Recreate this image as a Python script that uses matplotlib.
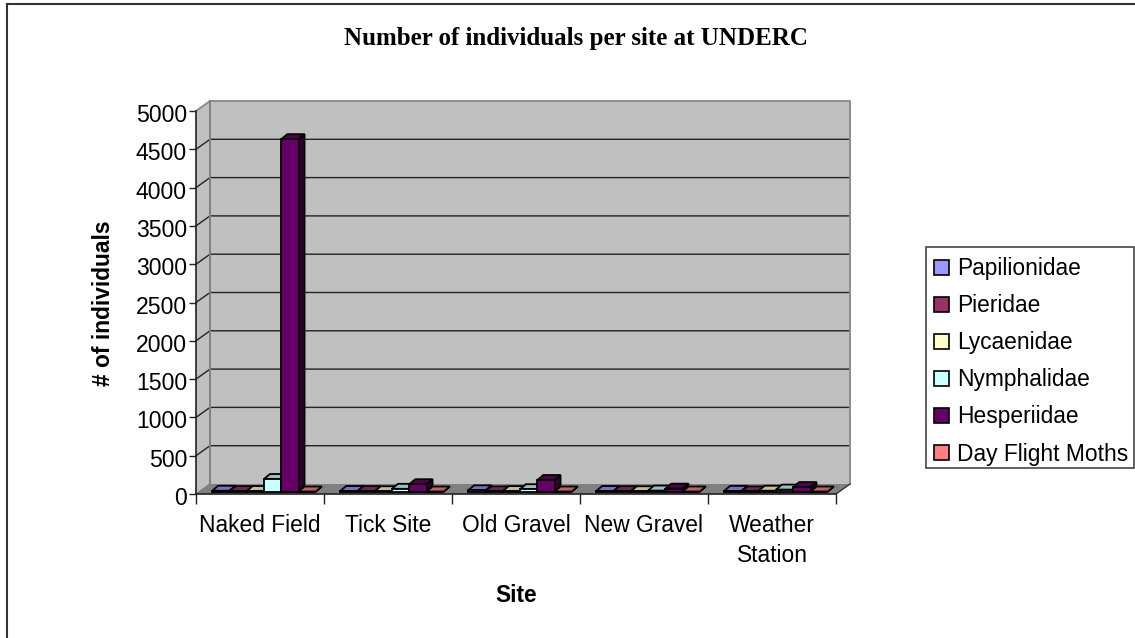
import numpy as np
from matplotlib import pyplot as plt
from matplotlib.patches import Polygon, Rectangle
from matplotlib.transforms import ScaledTranslation

plt.rcParams['font.family'] = ['Liberation Sans', 'DejaVu Sans']

sites = ['Naked Field', 'Tick Site', 'Old Gravel', 'New Gravel', 'Weather\nStation']
families = ['Papilionidae', 'Pieridae', 'Lycaenidae', 'Nymphalidae', 'Hesperiidae', 'Day Flight Moths']
colors = ['#9999FF', '#993366', '#FFFFCC', '#CCFFFF', '#660066', '#FF8080']
yticks = [0, 500, 1000, 1500, 2000, 2500, 3000, 3500, 4000, 4500, 5000]

papilionidae = [10, 6, 15, 6, 8]
pieridae = [5, 5, 2, 4, 1]
lycaenidae = [6, 3, 5, 3, 10]
nymphalidae = [163, 35, 30, 12, 25]
hesperiidae = [4600, 95, 150, 37, 58]
moths = [0, 0, 0, 0, 0]
counts = [papilionidae, pieridae, lycaenidae, nymphalidae, hesperiidae, moths]

W, H = 1135, 638
fig = plt.figure(figsize=(W / 100, H / 100), dpi=100)
fig.patch.set_facecolor('white')

# front plane of the fake 3d box, in pixels from the top left
left, right, top, bottom = 196, 836, 111, 494
ax = fig.add_axes([left / W, 1 - bottom / H, (right - left) / W, (bottom - top) / H])
ax.set_xlim(0, 5)
ax.set_ylim(0, 5000)
ax.patch.set_visible(False)
for s in ax.spines.values():
    s.set_visible(False)

# depth of the box and of the bars, in data units
px = 5 / (right - left)
py = 5000 / (bottom - top)
box_dx, box_dy = 14 * px, 10 * py
bar_dx, bar_dy = 6 * px, 5 * py
base_x, base_y = 4 * px, 2.5 * py


def poly(pts, fc, ec='none', lw=0, z=1):
    ax.add_patch(Polygon(pts, closed=True, fc=fc, ec=ec, lw=lw, zorder=z, clip_on=False, joinstyle='miter'))


# walls and floor
poly([(0, 0), (box_dx, box_dy), (box_dx, 5000 + box_dy), (0, 5000)], '#C0C0C0')
poly([(box_dx, box_dy), (5 + box_dx, box_dy), (5 + box_dx, 5000 + box_dy), (box_dx, 5000 + box_dy)], '#C0C0C0')
poly([(0, 0), (5, 0), (5 + box_dx, box_dy), (box_dx, box_dy)], '#808080')

for t in yticks[1:-1]:
    ax.plot([0, box_dx, 5 + box_dx], [t, t + box_dy, t + box_dy], color='#222222', lw=1, zorder=2, clip_on=False)
# wall outlines
wall_x = [0, box_dx, 5 + box_dx, 5 + box_dx]
wall_y = [5000, 5000 + box_dy, 5000 + box_dy, box_dy]
ax.plot(wall_x, wall_y, color='#8c8c8c', lw=1.4, zorder=2, clip_on=False)
ax.plot([box_dx, box_dx], [box_dy, 5000 + box_dy], color='#808080', lw=1.4, zorder=2, clip_on=False)
ax.plot([0, box_dx], [0, box_dy], color='#808080', lw=1, zorder=2, clip_on=False)
ax.plot([5, 5 + box_dx], [0, box_dy], color='#333333', lw=1, zorder=2, clip_on=False)


def darker(hex_color, f):
    r, g, b = [int(hex_color[i:i + 2], 16) for i in (1, 3, 5)]
    return (r * f / 255, g * f / 255, b * f / 255)


# bars, one cluster per site, drawn left to right
bar_w = 0.135
n = len(families)
for i in range(len(sites)):
    for j in range(n):
        v = counts[j][i]
        x0 = i + 0.5 + (j - n / 2) * bar_w + base_x
        x1 = x0 + bar_w
        y0 = base_y
        y1 = y0 + v
        c = colors[j]
        z = 3 + j * 0.1
        ek = dict(ec='black', lw=1.3, z=z)
        poly([(x1, y0), (x1 + bar_dx, y0 + bar_dy), (x1 + bar_dx, y1 + bar_dy), (x1, y1)], darker(c, 0.5), **ek)
        poly([(x0, y1), (x1, y1), (x1 + bar_dx, y1 + bar_dy), (x0 + bar_dx, y1 + bar_dy)], darker(c, 0.75), **ek)
        poly([(x0, y0), (x1, y0), (x1, y1), (x0, y1)], c, **ek)

ax.set_xticks(range(6))
ax.set_xticklabels([])
ax.set_yticks(yticks)
ax.tick_params(axis='y', length=5, width=1, color='#222222', labelsize=16.6, pad=1.5)
ax.tick_params(axis='x', direction='out', length=7, width=1, color='#222222')
# tick numbers sit a little below their ticks
nudge = ScaledTranslation(0, -2 / 100, fig.dpi_scale_trans)
for label in ax.get_yticklabels():
    label.set_transform(label.get_transform() + nudge)
ax.plot([0, 0], [0, 5000], color='#222222', lw=1.2, clip_on=False, zorder=2)
ax.plot([0, 5], [0, 0], color='#222222', lw=1.2, clip_on=False, zorder=2)
for i, name in enumerate(sites):
    ax.text(i + 0.5, -255, name, ha='center', va='top', fontsize=16.4, linespacing=1.42)

fig.text(575.5 / W, 1 - 39 / H, 'Number of individuals per site at UNDERC', family=['Liberation Serif'],
         weight='bold', fontsize=18, ha='center', va='center')
fig.text(103 / W, 1 - 303 / H, '# of individuals', weight='bold', fontsize=16.4,
         rotation=90, ha='center', va='center')
fig.text(516 / W, 1 - 595 / H, 'Site', weight='bold', fontsize=16.4, ha='center', va='center')

# outer frame and legend on a full figure overlay
over = fig.add_axes([0, 0, 1, 1], facecolor='none')
over.set_xlim(0, W)
over.set_ylim(H, 0)
over.axis('off')
over.plot([7, 7], [H, 4], color='#333333', lw=1.5)
over.plot([7, W], [4, 4], color='#333333', lw=1.5)
over.add_patch(Rectangle((926, 247), 208, 221, fc='white', ec='#444444', lw=1.2))
for k, name in enumerate(families):
    y = 267 + k * 37.1
    over.add_patch(Rectangle((933.5, y - 7.5), 15, 15, fc=colors[k], ec='black', lw=1.2))
    over.text(957, y + 1.5, name, fontsize=16.4, va='center', ha='left')

fig.savefig('out.png', dpi=100)
